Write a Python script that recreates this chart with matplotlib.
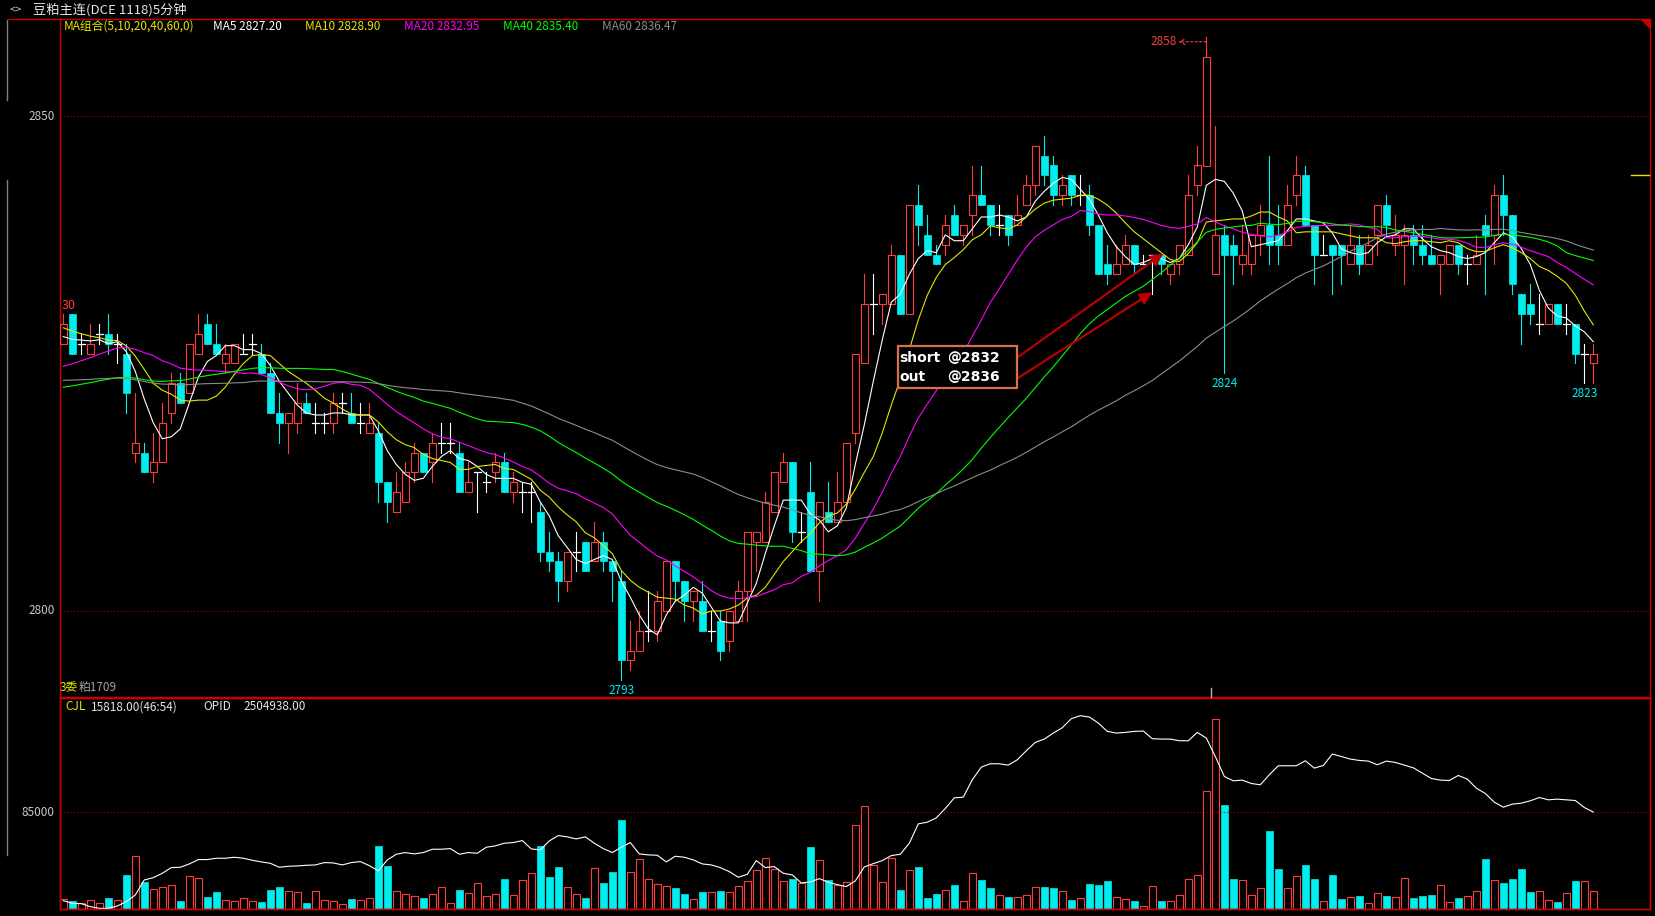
import numpy as np
import pandas as pd
import matplotlib
matplotlib.use('Agg')
import matplotlib.pyplot as plt
from matplotlib.patches import Rectangle, Polygon
from matplotlib.lines import Line2D

plt.rcParams['font.family'] = ['Noto Sans CJK SC', 'DejaVu Sans']

# 5 minute bars, soybean meal main contract
opens = [2827, 2830, 2827, 2826, 2828, 2828, 2827, 2826, 2816, 2816,
         2814, 2815, 2820, 2823, 2822, 2826, 2829, 2827, 2825, 2825,
         2826, 2827, 2826, 2824, 2820, 2819, 2819, 2821, 2819, 2819,
         2819, 2821, 2820, 2819, 2818, 2818, 2813, 2810, 2811, 2814,
         2816, 2815, 2817, 2817, 2816, 2812, 2814, 2813, 2814, 2815,
         2812, 2812, 2812, 2810, 2806, 2805, 2803, 2806, 2807, 2805,
         2807, 2805, 2803, 2795, 2796, 2798, 2798, 2800, 2805, 2803,
         2801, 2801, 2798, 2799, 2797, 2799, 2802, 2807, 2807, 2810,
         2813, 2815, 2808, 2812, 2804, 2810, 2809, 2811, 2818, 2825,
         2831, 2831, 2831, 2836, 2830, 2841, 2838, 2836, 2837, 2840,
         2838, 2840, 2842, 2841, 2839, 2840, 2839, 2841, 2843, 2846,
         2845, 2842, 2844, 2842, 2842, 2839, 2835, 2834, 2835, 2837,
         2835, 2836, 2836, 2834, 2835, 2836, 2843, 2845, 2834, 2838,
         2837, 2835, 2835, 2838, 2839, 2838, 2837, 2842, 2844, 2839,
         2836, 2837, 2837, 2835, 2837, 2835, 2838, 2841, 2837, 2837,
         2838, 2837, 2836, 2835, 2835, 2837, 2835, 2835, 2839, 2838,
         2842, 2840, 2832, 2831, 2829, 2829, 2831, 2829, 2829, 2826,
         2825]
highs = [2830, 2830, 2828, 2829, 2829, 2830, 2828, 2827, 2822, 2817,
         2818, 2821, 2824, 2824, 2827, 2830, 2830, 2829, 2827, 2827,
         2828, 2828, 2827, 2825, 2822, 2820, 2823, 2822, 2821, 2820,
         2822, 2822, 2822, 2821, 2821, 2819, 2813, 2814, 2815, 2817,
         2816, 2818, 2819, 2819, 2817, 2815, 2814, 2814, 2816, 2816,
         2814, 2813, 2813, 2811, 2808, 2806, 2806, 2808, 2807, 2809,
         2808, 2805, 2804, 2799, 2800, 2802, 2802, 2805, 2805, 2803,
         2802, 2803, 2800, 2800, 2800, 2803, 2808, 2808, 2812, 2814,
         2816, 2815, 2810, 2815, 2811, 2813, 2814, 2817, 2826, 2834,
         2834, 2832, 2837, 2836, 2841, 2843, 2840, 2837, 2840, 2841,
         2839, 2845, 2845, 2841, 2841, 2840, 2842, 2844, 2847, 2848,
         2846, 2844, 2844, 2844, 2843, 2839, 2837, 2837, 2838, 2837,
         2836, 2836, 2836, 2835, 2837, 2844, 2847, 2858, 2849, 2839,
         2838, 2839, 2838, 2841, 2846, 2841, 2843, 2846, 2845, 2839,
         2838, 2837, 2837, 2839, 2838, 2838, 2841, 2842, 2840, 2839,
         2839, 2839, 2838, 2836, 2837, 2837, 2836, 2838, 2840, 2843,
         2844, 2840, 2832, 2833, 2832, 2831, 2831, 2831, 2829, 2827,
         2827]
lows = [2827, 2826, 2826, 2826, 2827, 2826, 2825, 2820, 2815, 2814,
        2813, 2815, 2819, 2821, 2822, 2826, 2827, 2826, 2824, 2825,
        2826, 2826, 2824, 2820, 2817, 2816, 2818, 2820, 2818, 2818,
        2818, 2820, 2819, 2818, 2818, 2811, 2809, 2810, 2811, 2813,
        2814, 2813, 2816, 2816, 2812, 2812, 2810, 2812, 2813, 2812,
        2811, 2810, 2809, 2805, 2804, 2801, 2802, 2804, 2804, 2805,
        2804, 2801, 2793, 2794, 2796, 2797, 2797, 2800, 2801, 2799,
        2799, 2798, 2797, 2795, 2796, 2799, 2799, 2804, 2807, 2810,
        2813, 2807, 2807, 2804, 2801, 2809, 2809, 2811, 2817, 2825,
        2828, 2829, 2831, 2830, 2830, 2837, 2836, 2835, 2836, 2838,
        2837, 2838, 2841, 2838, 2838, 2837, 2839, 2841, 2842, 2843,
        2841, 2841, 2841, 2841, 2838, 2834, 2833, 2834, 2835, 2834,
        2835, 2832, 2834, 2833, 2834, 2836, 2842, 2845, 2834, 2824,
        2833, 2834, 2834, 2836, 2835, 2835, 2837, 2841, 2839, 2833,
        2836, 2832, 2833, 2835, 2834, 2835, 2836, 2838, 2836, 2833,
        2835, 2835, 2835, 2832, 2835, 2834, 2833, 2835, 2832, 2835,
        2838, 2832, 2827, 2829, 2828, 2829, 2829, 2828, 2825, 2823,
        2823]
closes = [2829, 2826, 2827, 2827, 2828, 2827, 2827, 2822, 2817, 2814,
          2815, 2819, 2823, 2821, 2827, 2828, 2827, 2826, 2826, 2827,
          2826, 2827, 2824, 2820, 2819, 2820, 2821, 2820, 2819, 2819,
          2821, 2821, 2819, 2819, 2819, 2813, 2811, 2812, 2814, 2816,
          2814, 2817, 2817, 2817, 2812, 2813, 2814, 2813, 2815, 2812,
          2813, 2812, 2812, 2806, 2805, 2803, 2806, 2806, 2804, 2807,
          2805, 2804, 2795, 2796, 2798, 2798, 2801, 2805, 2803, 2801,
          2802, 2798, 2798, 2796, 2800, 2802, 2808, 2808, 2811, 2814,
          2815, 2808, 2808, 2804, 2811, 2809, 2811, 2817, 2826, 2831,
          2831, 2832, 2836, 2830, 2841, 2839, 2836, 2835, 2839, 2838,
          2839, 2842, 2841, 2839, 2839, 2838, 2840, 2843, 2847, 2844,
          2842, 2843, 2842, 2842, 2839, 2834, 2834, 2835, 2837, 2835,
          2835, 2836, 2835, 2835, 2837, 2842, 2845, 2856, 2838, 2836,
          2836, 2836, 2838, 2839, 2837, 2837, 2841, 2844, 2839, 2836,
          2836, 2836, 2836, 2837, 2835, 2837, 2841, 2839, 2838, 2838,
          2837, 2836, 2835, 2836, 2837, 2835, 2835, 2836, 2838, 2842,
          2840, 2833, 2830, 2830, 2829, 2831, 2829, 2829, 2826, 2826,
          2826]
volumes = [8500, 7000, 5000, 7600, 5000, 9700, 7600, 29900, 46600, 23700,
           17300, 19100, 20800, 7000, 28700, 27000, 10600, 14900, 7600, 6700,
           9400, 7000, 6200, 16700, 19300, 15500, 14700, 5300, 15500, 7600,
           6700, 4100, 8800, 7600, 9400, 55400, 37800, 15500, 12900, 11100,
           9700, 12900, 19100, 5000, 16700, 14100, 22600, 11100, 12900, 26400,
           12000, 25200, 31400, 55400, 28100, 36900, 19100, 12900, 9700, 35800,
           22900, 32500, 78300, 32200, 43700, 26100, 21700, 19900, 18500, 13200,
           8500, 14900, 14700, 15800, 14700, 19900, 24300, 34000, 44600, 34900,
           24300, 26400, 22600, 54500, 42800, 25500, 21100, 23400, 73900, 90300,
           38700, 23400, 44600, 16700, 34000, 36900, 9700, 13200, 16400, 21100,
           6700, 31400, 25500, 18500, 12000, 10600, 10300, 12000, 19100, 19300,
           18500, 15500, 7900, 9400, 22000, 21100, 24600, 10600, 8500, 7000,
           2300, 19900, 7000, 7000, 12000, 26100, 29600, 103500, 166800, 91400,
           26400, 25200, 12000, 18200, 68600, 35200, 18200, 28700, 38700, 26400,
           6700, 29900, 8800, 10300, 11400, 5000, 13800, 11400, 10300, 27000,
           9700, 11400, 12300, 20800, 5900, 9700, 11100, 15500, 44000, 25200,
           22900, 26400, 35200, 14900, 15500, 7600, 6200, 13800, 24600, 24300,
           15818]
opid = [2478400, 2477600, 2477500, 2476600, 2476100, 2476100, 2476800, 2478100, 2480100, 2484600,
        2485300, 2486600, 2488300, 2488400, 2489400, 2490700, 2490700, 2491100, 2491100, 2491400,
        2491100, 2490500, 2490000, 2489600, 2488400, 2488700, 2488800, 2489000, 2489100, 2489800,
        2489700, 2489100, 2489800, 2490100, 2488900, 2487300, 2490600, 2492300, 2492800, 2492400,
        2492800, 2493800, 2493800, 2494000, 2492300, 2492800, 2492600, 2494400, 2494800, 2495600,
        2495800, 2496400, 2493900, 2493600, 2496300, 2497900, 2497500, 2496900, 2497500, 2495600,
        2494000, 2492800, 2494400, 2495800, 2492400, 2492100, 2492000, 2490000, 2491700, 2491400,
        2490600, 2489400, 2489100, 2488300, 2487100, 2485400, 2486300, 2490400, 2488300, 2488600,
        2486600, 2486100, 2483700, 2484000, 2485000, 2483900, 2483200, 2482600, 2484300, 2488500,
        2489500, 2490400, 2491900, 2492300, 2495600, 2501400, 2501900, 2503200, 2506000, 2509200,
        2509400, 2514600, 2518400, 2519400, 2519400, 2519000, 2520600, 2523300, 2525800, 2526800,
        2528600, 2530200, 2532900, 2533800, 2533400, 2531600, 2529100, 2528600, 2528800, 2529100,
        2529200, 2526900, 2526800, 2526800, 2526300, 2526300, 2528800, 2527100, 2521600, 2515600,
        2514300, 2514500, 2513500, 2513100, 2516100, 2518800, 2518800, 2518800, 2520300, 2518100,
        2518900, 2522300, 2521600, 2520800, 2520400, 2520200, 2519100, 2520200, 2519800, 2519000,
        2518200, 2516600, 2515000, 2514500, 2514400, 2515900, 2514800, 2512100, 2510500, 2507900,
        2506400, 2507300, 2507600, 2508300, 2509300, 2508600, 2508800, 2508600, 2508400, 2506300,
        2504938]

# closes before the first visible bar (estimated from where the MA lines start)
warmup_levels = [2824.7, 2820.5, 2820.8, 2829.5, 2827.4]
warmup_sizes = [20, 20, 10, 5, 4]

ma_periods = [5, 10, 20, 40, 60]
ma_colors = ['#ffffff', '#e6e600', '#ff00ff', '#00ff00', '#8c8c8c']

RED = '#ff3b3b'
CYAN = '#00eeee'
FRAME = '#c80000'
GRID = '#a00000'

W, H = 1655, 916
fig = plt.figure(figsize=(W / 100, H / 100), dpi=100, facecolor='black')


def fp(x, y):
    # screen pixel (from top-left) -> figure fraction
    return x / W, 1 - y / H


x0, y0 = fp(60, 697)
x1, y1 = fp(1650, 19)
ax = fig.add_axes([x0, y0, x1 - x0, y1 - y0])
vx0, vy0 = fp(60, 909)
vx1, vy1 = fp(1650, 698)
axv = fig.add_axes([vx0, vy0, vx1 - vx0, vy1 - vy0])
axo = axv.twinx()

n = len(closes)
idx = np.arange(n)
bw = 0.74

# candles: red hollow = up, cyan filled = down, white cross = unchanged
for i in range(n):
    o, h, l, c = opens[i], highs[i], lows[i], closes[i]
    if c > o:
        ax.plot([i, i], [c, h], color=RED, lw=0.8, zorder=2)
        ax.plot([i, i], [l, o], color=RED, lw=0.8, zorder=2)
        ax.add_patch(Rectangle((i - bw / 2, o), bw, c - o, facecolor='none',
                               edgecolor=RED, lw=0.8, zorder=3))
    elif c < o:
        ax.plot([i, i], [l, h], color=CYAN, lw=0.8, zorder=2)
        ax.add_patch(Rectangle((i - bw / 2, c), bw, o - c, facecolor=CYAN,
                               edgecolor=CYAN, lw=0.5, zorder=3))
    else:
        ax.plot([i, i], [l, h], color='white', lw=0.8, zorder=2)
        ax.plot([i - bw / 2, i + bw / 2], [c, c], color='white', lw=0.9, zorder=3)

# moving averages
hist = np.repeat(warmup_levels, warmup_sizes)
series = pd.Series(np.concatenate([hist, np.array(closes, dtype=float)]))
ma_last = []
for p, col in zip(ma_periods, ma_colors):
    ma = series.rolling(p).mean().iloc[len(hist):].values
    ax.plot(idx, ma, color=col, lw=0.8, zorder=4)
    ma_last.append(ma[-1])

ax.axhline(2850, color=GRID, lw=0.8, ls=(0, (1, 2)), zorder=1)
ax.axhline(2800, color=GRID, lw=0.8, ls=(0, (1, 2)), zorder=1)
ax.set_xlim((60 - 63.3) / 9, (1650 - 63.3) / 9)
ax.set_ylim(2850 - (697 - 116) / 9.9, 2850 + (116 - 19) / 9.9)

# high / low labels
hi = int(np.argmax(highs))
ax.annotate('', xy=(hi - 3.1, highs[hi] - 0.5), xytext=(hi, highs[hi] - 0.5),
            arrowprops=dict(arrowstyle='->', color=RED, lw=0.8, ls=(0, (2, 2)),
                            shrinkA=0, shrinkB=0), zorder=5)
ax.text(hi - 3.3, highs[hi] - 0.5, f'{highs[hi]}', color=RED, fontsize=8.5,
        ha='right', va='center', zorder=5)
for j in [62, 129, 169]:
    ax.annotate(f'{lows[j]}', xy=(j, lows[j]), xytext=(0, -10),
                textcoords='offset pixels', color=CYAN, fontsize=8.5,
                ha='center', va='center', zorder=5)

# trade note with arrows
bx, by = fp(898, 388)
bx2, by2 = fp(1017, 346)
fig.patches.append(Rectangle((bx, by), bx2 - bx, by2 - by, transform=fig.transFigure,
                             facecolor='black', edgecolor='#d8704e', lw=1.6, zorder=10))
for txt, yy in [('short', 358), ('out', 377)]:
    fig.text(*fp(899, yy), txt, color='white', fontsize=10, fontweight='bold',
             family='DejaVu Sans', va='center', ha='left', zorder=11)
for txt, yy in [('@2832', 358), ('@2836', 377)]:
    fig.text(*fp(947, yy), txt, color='white', fontsize=10, fontweight='bold',
             family='DejaVu Sans', va='center', ha='left', zorder=11)
for sy, tx, ty in [(357, 122.2, 2836.1), (378, 121.0, 2832.2)]:
    ax.annotate('', xy=(tx, ty), xytext=(1018, H - sy), textcoords='figure pixels',
                arrowprops=dict(arrowstyle='-|>', color='#b80000', lw=1.6,
                                mutation_scale=18, shrinkA=0, shrinkB=0), zorder=6)

# volume panel
for i in range(n):
    if closes[i] < opens[i]:
        axv.add_patch(Rectangle((i - bw / 2, 0), bw, volumes[i], facecolor=CYAN,
                                edgecolor=CYAN, lw=0.5))
    else:
        axv.add_patch(Rectangle((i - bw / 2, 0), bw, volumes[i], facecolor='none',
                                edgecolor=RED, lw=0.8))
axv.axhline(85000, color=GRID, lw=0.8, ls=(0, (1, 2)))
axv.set_xlim(ax.get_xlim())
axv.set_ylim(0, 185000)
axo.plot(idx, opid, color='white', lw=0.8)
axo.set_ylim(2475900, 2539100)

for a in [ax, axv, axo]:
    a.set_facecolor('black')
    a.set_xticks([])
    a.set_yticks([])
    for s in a.spines.values():
        s.set_color(FRAME)
        s.set_linewidth(1.0)
axo.patch.set_visible(False)

# frame bits outside the axes
fig.lines.append(Line2D([8 / W, x0], [1 - 19 / H, 1 - 19 / H], transform=fig.transFigure,
                        color=FRAME, lw=1.0))
fig.lines.append(Line2D([7 / W, 7 / W], [1 - 20 / H, 1 - 100 / H], transform=fig.transFigure,
                        color='#808080', lw=1.0))
fig.lines.append(Line2D([7 / W, 7 / W], [1 - 180 / H, 1 - 855 / H], transform=fig.transFigure,
                        color='#808080', lw=1.0))
fig.lines.append(Line2D([1631 / W, 1649 / W], [1 - 175 / H, 1 - 175 / H],
                        transform=fig.transFigure, color='#e6e600', lw=1.0))
fig.lines.append(Line2D([1211 / W, 1211 / W], [1 - 688 / H, 1 - 697 / H],
                        transform=fig.transFigure, color='#b0b0b0', lw=1.0))
fig.patches.append(Polygon([fp(1640, 19), fp(1650, 19), fp(1650, 29)], closed=True,
                           transform=fig.transFigure, facecolor=FRAME, edgecolor='none'))

# texts
fig.text(*fp(10, 10), '<>', color='#c8c8c8', fontsize=8, va='center', ha='left')
fig.text(*fp(33, 10), '豆粕主连(DCE 1118)5分钟', color='#e6e6e6', fontsize=9.5,
         va='center', ha='left')
fig.text(*fp(64, 26), 'MA组合(5,10,20,40,60,0)', color='#e6e600', fontsize=8.5,
         va='center', ha='left')
for p, col, v, xx in zip(ma_periods, ma_colors, ma_last, [213, 305, 404, 503, 602]):
    fig.text(*fp(xx, 26), f'MA{p} {v:.2f}', color=col, fontsize=8.5, va='center', ha='left')

fig.text(*fp(55, 116), '2850', color='#c8c8c8', fontsize=8.5, va='center', ha='right')
fig.text(*fp(55, 611), '2800', color='#c8c8c8', fontsize=8.5, va='center', ha='right')
fig.text(*fp(55, 812), '85000', color='#c8c8c8', fontsize=8.5, va='center', ha='right')
fig.text(*fp(62, 305), '30', color=RED, fontsize=9, va='center', ha='left')

fig.text(*fp(60, 688), '3委', color='#e6e600', fontsize=8.5, va='center', ha='left')
fig.text(*fp(79, 688), '粕1709', color='#a0a0a0', fontsize=8.5, va='center', ha='left')

fig.text(*fp(65, 707), 'CJL', color='#e6e600', fontsize=8.5, va='center', ha='left')
fig.text(*fp(91, 707), f'{volumes[-1]:.2f}(46:54)', color='#e6e6e6', fontsize=8.5,
         va='center', ha='left')
fig.text(*fp(203, 707), 'OPID', color='#e6e6e6', fontsize=8.5, va='center', ha='left')
fig.text(*fp(243, 707), f'{opid[-1]:.2f}', color='#e6e6e6', fontsize=8.5,
         va='center', ha='left')

fig.savefig('out.png', dpi=100, facecolor='black')
